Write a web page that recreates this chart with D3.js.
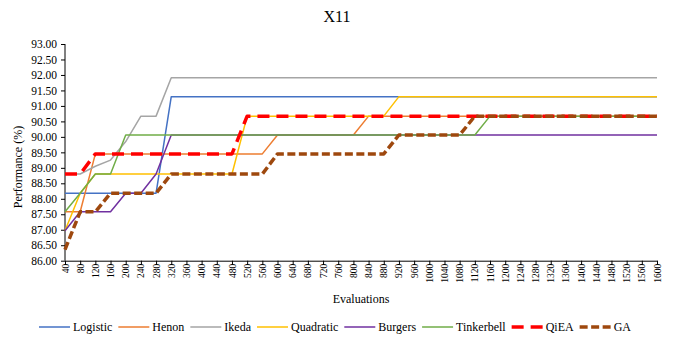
<!DOCTYPE html>
<html lang="en">
<head>
<meta charset="UTF-8">
<title>X11</title>
<script src="https://cdn.jsdelivr.net/npm/d3@7"></script>
<style>
body{margin:0;background:#fff}
text{font-family:"Liberation Serif","Times New Roman",serif;fill:#000}
</style>
</head>
<body>
<div id="grafica"></div>
<script>
// data
evaluations=d3.range(40,1601,40)
seriesNames=['Logistic','Henon','Ikeda','Quadratic','Burgers','Tinkerbell','QiEA','GA']
yTicks=[86,86.5,87,87.5,88,88.5,89,89.5,90,90.5,91,91.5,92,92.5,93]

// each series: [evaluation, value] break points, flat in between
logistic=[[40,88.18],[280,88.18],[320,91.30],[1600,91.30]]
henon=[[40,87.58],[80,87.58],[120,89.45],[560,89.45],[600,90.06],[800,90.06],[840,90.67],[1600,90.67]]
ikeda=[[40,88.80],[80,88.80],[120,89.05],[160,89.25],[200,89.85],[240,90.67],[280,90.67],[320,91.91],[1600,91.91]]
quadratic=[[40,86.97],[80,88.18],[120,88.80],[480,88.80],[520,90.67],[880,90.67],[920,91.30],[1600,91.30]]
burgers=[[40,86.97],[80,87.58],[160,87.58],[200,88.18],[240,88.18],[280,88.80],[320,90.06],[1600,90.06]]
tinkerbell=[[40,87.58],[80,88.18],[120,88.80],[160,88.80],[200,90.06],[1120,90.06],[1160,90.67],[1600,90.67]]
qiea=[[40,88.80],[80,88.80],[120,89.45],[480,89.45],[520,90.67],[1600,90.67]]
ga=[[40,86.36],[80,87.58],[120,87.58],[160,88.18],[280,88.18],[320,88.80],[560,88.80],[600,89.45],[880,89.45],[920,90.06],[1080,90.06],[1120,90.67],[1600,90.67]]

// expand break points to one value per evaluation
function expand(pts){
	return evaluations.map(function(e){
		var v=pts[0][1]
		for(var i=0;i<pts.length;i++){ if(pts[i][0]<=e) v=pts[i][1] }
		return {e:e,v:v}
	})
}
seriesData=[logistic,henon,ikeda,quadratic,burgers,tinkerbell,qiea,ga].map(expand)

colors=['#4472C4','#ED7D31','#A5A5A5','#FFC000','#7030A0','#70AD47','#FF0000','#9E480E']
widths=[1.5,1.5,1.5,1.5,1.5,1.5,3.5,3.5]
dashes=[null,null,null,null,null,null,'12,7','8,3.5']

ancho=676
alto=339
svg=d3.select('#grafica').append('svg').attr('width',ancho).attr('height',alto)

x=d3.scalePoint().domain(evaluations).range([65,657])
y=d3.scaleLinear().domain([86,93]).range([260.7,44])

// title
svg.append('text').attr('x',337).attr('y',22).attr('text-anchor','middle')
	.style('font-size','16px').text('X11')

// y axis
yAxis=svg.append('g').attr('transform','translate(65,0)')
	.call(d3.axisLeft(y).tickValues(yTicks).tickSize(4).tickPadding(4).tickFormat(d3.format('.2f')))
yAxis.selectAll('text').style('font-size','11.5px').style('font-family','"Liberation Serif",serif')
yAxis.selectAll('line,path').attr('stroke','#000')
yAxis.select('path').attr('d','M0,44V260.7')

// x axis
xAxis=svg.append('g').attr('transform','translate(0,260.7)')
	.call(d3.axisBottom(x).tickSize(4).tickSizeOuter(0))
xAxis.selectAll('line,path').attr('stroke','#000')
xAxis.selectAll('text')
	.style('font-size','9.5px').style('font-family','"Liberation Serif",serif')
	.attr('text-anchor','end').attr('dy','0.32em')
	.attr('transform','translate(0,3) rotate(-90)').attr('x',0).attr('y',0)

// axis titles
svg.append('text').attr('transform','translate(22,167) rotate(-90)').attr('text-anchor','middle')
	.style('font-size','12px').text('Performance (%)')
svg.append('text').attr('x',361).attr('y',303).attr('text-anchor','middle')
	.style('font-size','12px').text('Evaluations')

// lines
line=d3.line().x(function(d){return x(d.e)}).y(function(d){return y(d.v)})
seriesData.forEach(function(s,i){
	svg.append('path').datum(s).attr('d',line).attr('fill','none')
		.attr('stroke',colors[i]).attr('stroke-width',widths[i])
		.attr('stroke-dasharray',dashes[i]).attr('stroke-linejoin','round')
})

// legend
leg=svg.append('g')
lx=39
seriesNames.forEach(function(n,i){
	leg.append('line').attr('x1',lx).attr('x2',lx+31).attr('y1',327).attr('y2',327)
		.attr('stroke',colors[i]).attr('stroke-width',widths[i]).attr('stroke-dasharray',dashes[i])
	t=leg.append('text').attr('x',lx+34).attr('y',331).style('font-size','12px').text(n)
	lx=lx+34+t.node().getComputedTextLength()+6
})
</script>
</body>
</html>
